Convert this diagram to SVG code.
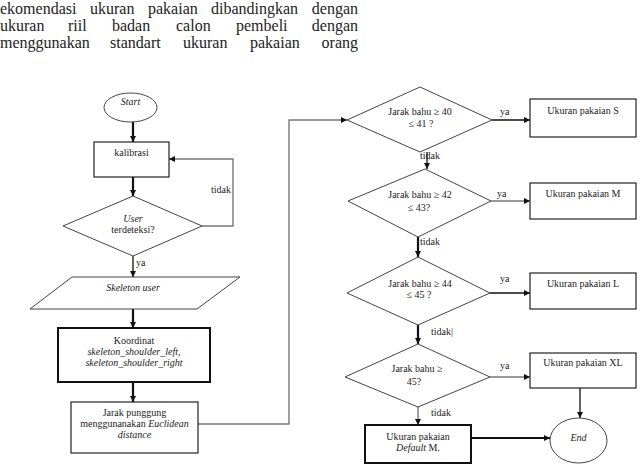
<svg xmlns="http://www.w3.org/2000/svg" width="644" height="465" viewBox="0 0 644 465">
<defs>
<marker id="ah" viewBox="0 0 10 10" refX="10" refY="5" markerWidth="7" markerHeight="6" markerUnits="userSpaceOnUse" orient="auto"><path d="M0,0 L10,5 L0,10 z" fill="#111"/></marker>
</defs>
<style>
.hd{font-family:"Liberation Serif","Times New Roman",serif;font-size:16px;fill:#222}
.t{font-family:"Liberation Serif","Times New Roman",serif;font-size:10px;fill:#222;text-anchor:middle}
.l{font-family:"Liberation Serif","Times New Roman",serif;font-size:10px;fill:#222}
.i{font-style:italic}
.box{fill:#fff;stroke:#222;stroke-width:1.2}
.bx2{fill:#fff;stroke:#111;stroke-width:2}
.sh{fill:#fff;stroke:#444;stroke-width:1}
.c{fill:none;stroke:#111;stroke-width:1.3}
.ck{fill:none;stroke:#111;stroke-width:2.2}
.cg{fill:none;stroke:#777;stroke-width:1.4}
</style>
<rect width="644" height="465" fill="#fff"/>
<g id="header">
<text class="hd" x="0" y="14">ekomendasi</text>
<text class="hd" x="90" y="14">ukuran</text>
<text class="hd" x="148" y="14">pakaian</text>
<text class="hd" x="211" y="14">dibandingkan</text>
<text class="hd" x="358" y="14" text-anchor="end">dengan</text>
<text class="hd" x="0" y="31">ukuran</text>
<text class="hd" x="68" y="31">riil</text>
<text class="hd" x="112" y="31">badan</text>
<text class="hd" x="176" y="31">calon</text>
<text class="hd" x="236" y="31">pembeli</text>
<text class="hd" x="358" y="31" text-anchor="end">dengan</text>
<text class="hd" x="0" y="48">menggunakan</text>
<text class="hd" x="110" y="48">standart</text>
<text class="hd" x="183" y="48">ukuran</text>
<text class="hd" x="250" y="48">pakaian</text>
<text class="hd" x="358" y="48" text-anchor="end">orang</text>
</g>
<g id="connectors">
<line class="ck" x1="133" y1="122" x2="133" y2="142" marker-end="url(#ah)"/>
<line class="ck" x1="133" y1="177" x2="133" y2="196" marker-end="url(#ah)"/>
<polyline class="cg" points="202,226 233,226 233,159 169,159" marker-end="url(#ah)"/>
<line class="c" x1="133" y1="256" x2="133" y2="277" marker-end="url(#ah)"/>
<line class="ck" x1="133" y1="309" x2="133" y2="328" marker-end="url(#ah)"/>
<line class="ck" x1="133" y1="382" x2="133" y2="402" marker-end="url(#ah)"/>
<polyline class="cg" points="198,424 289,424 289,120 347,120" marker-end="url(#ah)"/>
<line class="c" x1="492" y1="120" x2="530" y2="120" marker-end="url(#ah)"/>
<line class="c" x1="427" y1="152" x2="427" y2="169" marker-end="url(#ah)"/>
<line class="cg" x1="491" y1="201" x2="530" y2="201" marker-end="url(#ah)"/>
<line class="ck" x1="418" y1="237" x2="418" y2="257" marker-end="url(#ah)"/>
<line class="c" x1="490" y1="293" x2="530" y2="293" marker-end="url(#ah)"/>
<line class="ck" x1="418" y1="325" x2="418" y2="344" marker-end="url(#ah)"/>
<line class="cg" x1="490" y1="377" x2="530" y2="377" marker-end="url(#ah)"/>
<line class="cg" x1="418" y1="407" x2="418" y2="425" marker-end="url(#ah)"/>
<line class="c" x1="580" y1="388" x2="580" y2="418" marker-end="url(#ah)"/>
<line class="ck" x1="471" y1="438" x2="550" y2="438" marker-end="url(#ah)"/>
<text class="l" x="211" y="193">tidak</text>
<text class="l" x="136" y="266">ya</text>
<text class="l" x="500" y="115">ya</text>
<text class="l" x="420" y="159">tidak</text>
<text class="l" x="497" y="197">ya</text>
<text class="l" x="420" y="245">tidak</text>
<text class="l" x="500" y="282">ya</text>
<text class="l" x="431" y="335">tidak|</text>
<text class="l" x="500" y="369">ya</text>
<text class="l" x="431" y="416">tidak</text>
</g>
<g id="start">
<ellipse class="sh" cx="130.5" cy="107.5" rx="26.5" ry="14.5"/>
<text class="t i" x="130.5" y="105">Start</text>
</g>
<g id="kalibrasi">
<rect class="box" x="94" y="142" width="75" height="35"/>
<text class="t" x="131.5" y="156">kalibrasi</text>
</g>
<g id="user-terdeteksi">
<polygon class="sh" points="133,196 202,226 133,256 63,226"/>
<text class="t i" x="133" y="222">User</text>
<text class="t" x="133" y="233">terdeteksi?</text>
</g>
<g id="skeleton-user">
<polygon class="sh" points="72,277 240,277 197,309 30,309"/>
<text class="t i" x="133" y="291">Skeleton user</text>
</g>
<g id="koordinat">
<rect class="bx2" x="58" y="328" width="152" height="54"/>
<text class="t" x="134" y="344">Koordinat</text>
<text class="t i" x="134" y="355">skeleton_shoulder_left,</text>
<text class="t i" x="134" y="366">skeleton_shoulder_right</text>
</g>
<g id="jarak-punggung">
<rect class="box" x="71" y="402" width="127" height="51"/>
<text class="t" x="134.5" y="416">Jarak punggung</text>
<text class="t" x="134.5" y="427">menggunanakan <tspan class="i">Euclidean</tspan></text>
<text class="t i" x="134.5" y="438">distance</text>
</g>
<g id="bahu-40">
<polygon class="sh" points="420,87 492,120 420,152 347,120"/>
<text class="t" x="420" y="115">Jarak bahu ≥ 40</text>
<text class="t" x="421" y="127">≤ 41 ?</text>
</g>
<g id="size-s">
<rect class="box" x="530" y="99" width="106" height="38"/>
<text class="t" x="583" y="114">Ukuran pakaian S</text>
</g>
<g id="bahu-42">
<polygon class="sh" points="425,169 491,201 418,237 348,201"/>
<text class="t" x="420" y="198">Jarak bahu ≥ 42</text>
<text class="t" x="419" y="211">≤ 43?</text>
</g>
<g id="size-m">
<rect class="box" x="530" y="183" width="106" height="36"/>
<text class="t" x="583" y="197">Ukuran pakaian M</text>
</g>
<g id="bahu-44">
<polygon class="sh" points="418,257 490,293 418,325 347,293"/>
<text class="t" x="420" y="287">Jarak bahu ≥ 44</text>
<text class="t" x="419" y="298">≤ 45 ?</text>
</g>
<g id="size-l">
<rect class="box" x="530" y="273" width="106" height="36"/>
<text class="t" x="583" y="287">Ukuran pakaian L</text>
</g>
<g id="bahu-45">
<polygon class="sh" points="418,344 490,377 418,407 345,377"/>
<text class="t" x="417" y="372">Jarak bahu ≥</text>
<text class="t" x="414" y="385">45?</text>
</g>
<g id="size-xl">
<rect class="box" x="530" y="353" width="106" height="35"/>
<text class="t" x="583" y="366">Ukuran pakaian XL</text>
</g>
<g id="default-m">
<rect class="bx2" x="365" y="425" width="106" height="38"/>
<text class="t" x="418" y="440">Ukuran pakaian</text>
<text class="t" x="418" y="451"><tspan class="i">Default</tspan> M.</text>
</g>
<g id="end">
<ellipse class="sh" cx="578.5" cy="440.5" rx="28.5" ry="22.5"/>
<text class="t i" x="578.5" y="441">End</text>
</g>
</svg>
